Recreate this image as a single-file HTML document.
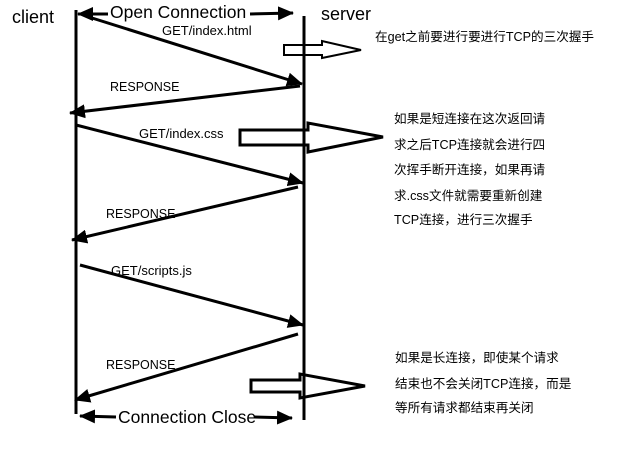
<!DOCTYPE html>
<html><head><meta charset="utf-8"><style>
html,body{margin:0;padding:0;background:#fff;width:631px;height:470px;overflow:hidden}
svg{display:block}
text{font-family:"Liberation Sans","Noto Sans CJK SC",sans-serif;fill:#000}
</style></head><body>
<svg width="631" height="470" viewBox="0 0 631 470">
<defs>
<marker id="b" markerWidth="16" markerHeight="14" refX="15" refY="7" orient="auto" markerUnits="userSpaceOnUse"><path d="M0,0 L16,7 L0,14 z" fill="#000"/></marker>
</defs>
<g stroke="#000" stroke-width="3" fill="none">
<line x1="76" y1="10" x2="76" y2="414"/>
<line x1="304" y1="16" x2="304" y2="420"/>
<line x1="92" y1="18" x2="302" y2="84" marker-end="url(#b)"/>
<line x1="300" y1="86" x2="70" y2="113" marker-end="url(#b)"/>
<line x1="76" y1="125" x2="303" y2="183" marker-end="url(#b)"/>
<line x1="298" y1="187" x2="72" y2="240" marker-end="url(#b)"/>
<line x1="80" y1="265" x2="303" y2="325" marker-end="url(#b)"/>
<line x1="298" y1="334" x2="75" y2="400" marker-end="url(#b)"/>
<line x1="108" y1="14" x2="78" y2="14" marker-end="url(#b)"/>
<line x1="250" y1="14" x2="293" y2="13" marker-end="url(#b)"/>
<line x1="116" y1="417" x2="80" y2="416" marker-end="url(#b)"/>
<line x1="254" y1="417" x2="292" y2="418" marker-end="url(#b)"/>
<path stroke-width="2" d="M284,45 L322,45 L322,41 L361,50 L322,58 L322,55 L284,55 Z"/>
<path stroke-width="3" d="M240,130 L308,130 L308,123 L383,137 L308,152 L308,145 L240,145 Z"/>
<path stroke-width="3" d="M251,380 L300,380 L300,374 L365,386 L300,398 L300,392 L251,392 Z"/>
</g>
<text x="12" y="23" font-size="18">client</text>
<text x="321" y="20" font-size="18">server</text>
<text x="110" y="18" font-size="17.5">Open Connection</text>
<text x="118" y="423" font-size="17.5">Connection Close</text>
<text x="162" y="35" font-size="13">GET/index.html</text>
<text x="110" y="91" font-size="12.5">RESPONSE</text>
<text x="139" y="138" font-size="13">GET/index.css</text>
<text x="106" y="218" font-size="12.5">RESPONSE</text>
<text x="111" y="275" font-size="13">GET/scripts.js</text>
<text x="106" y="369" font-size="12.5">RESPONSE</text>
<g font-size="12.6">
<text x="375" y="41">在get之前要进行要进行TCP的三次握手</text>
<text x="394" y="123">如果是短连接在这次返回请</text>
<text x="394" y="149">求之后TCP连接就会进行四</text>
<text x="394" y="174">次挥手断开连接，如果再请</text>
<text x="394" y="200">求.css文件就需要重新创建</text>
<text x="394" y="224">TCP连接，进行三次握手</text>
<text x="395" y="362">如果是长连接，即使某个请求</text>
<text x="395" y="388">结束也不会关闭TCP连接，而是</text>
<text x="395" y="412">等所有请求都结束再关闭</text>
</g>
</svg>
</body></html>
